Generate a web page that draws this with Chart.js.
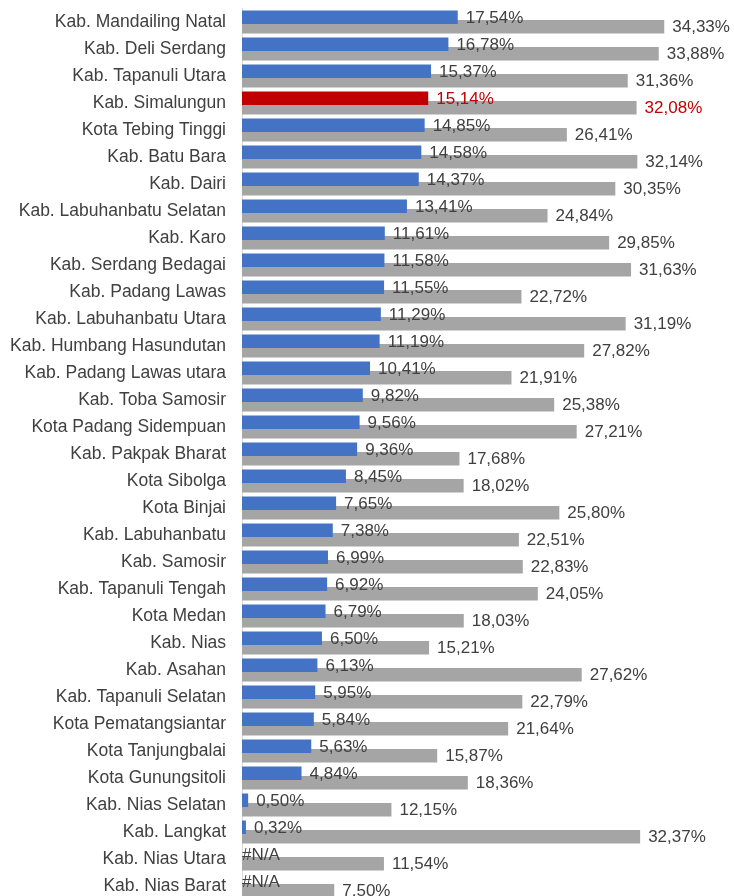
<!DOCTYPE html>
<html>
<head>
<meta charset="utf-8">
<script src="https://cdn.jsdelivr.net/npm/chart.js@4"></script>
<style>
    html, body { margin: 0; padding: 0; background: #fff; overflow: hidden; }
    .wrap { position: relative; width: 734px; height: 900px; }
</style>
</head>
<body>
<div class="wrap"><canvas id="rankChart"></canvas></div>
<script>
// kabupaten / kota, urut dari nilai tertinggi
const categories = [
    'Kab. Mandailing Natal', 'Kab. Deli Serdang', 'Kab. Tapanuli Utara', 'Kab. Simalungun',
    'Kota Tebing Tinggi', 'Kab. Batu Bara', 'Kab. Dairi', 'Kab. Labuhanbatu Selatan',
    'Kab. Karo', 'Kab. Serdang Bedagai', 'Kab. Padang Lawas', 'Kab. Labuhanbatu Utara',
    'Kab. Humbang Hasundutan', 'Kab. Padang Lawas utara', 'Kab. Toba Samosir', 'Kota Padang Sidempuan',
    'Kab. Pakpak Bharat', 'Kota Sibolga', 'Kota Binjai', 'Kab. Labuhanbatu',
    'Kab. Samosir', 'Kab. Tapanuli Tengah', 'Kota Medan', 'Kab. Nias',
    'Kab. Asahan', 'Kab. Tapanuli Selatan', 'Kota Pematangsiantar', 'Kota Tanjungbalai',
    'Kota Gunungsitoli', 'Kab. Nias Selatan', 'Kab. Langkat', 'Kab. Nias Utara', 'Kab. Nias Barat'
];

// seri pertama (biru), null = #N/A
const blueValues = [
    17.54, 16.78, 15.37, 15.14, 14.85, 14.58, 14.37, 13.41, 11.61, 11.58, 11.55,
    11.29, 11.19, 10.41, 9.82, 9.56, 9.36, 8.45, 7.65, 7.38, 6.99, 6.92,
    6.79, 6.50, 6.13, 5.95, 5.84, 5.63, 4.84, 0.50, 0.32, null, null
];

// seri kedua (abu-abu)
const grayValues = [
    34.33, 33.88, 31.36, 32.08, 26.41, 32.14, 30.35, 24.84, 29.85, 31.63, 22.72,
    31.19, 27.82, 21.91, 25.38, 27.21, 17.68, 18.02, 25.80, 22.51, 22.83, 24.05,
    18.03, 15.21, 27.62, 22.79, 21.64, 15.87, 18.36, 12.15, 32.37, 11.54, 7.50
];

const highlight = 'Kab. Simalungun';

const BLUE = '#4472c4';
const GRAY = '#a5a5a5';
const RED = '#c00000';
const TEXT = '#404040';
const FONT = '"Liberation Sans", Arial, sans-serif';

function fmt(v) {
    return v.toFixed(2).replace('.', ',') + '%';
}

// label nilai di ujung batang, gaya excel
const valueLabels = {
    id: 'valueLabels',
    afterDatasetsDraw(chart) {
        const ctx = chart.ctx;
        const x0 = chart.scales.x.getPixelForValue(0);
        ctx.save();
        ctx.font = '17px ' + FONT;
        ctx.textAlign = 'left';
        ctx.textBaseline = 'middle';
        chart.data.datasets.forEach(function(ds, d) {
            chart.getDatasetMeta(d).data.forEach(function(bar, i) {
                const v = ds.data[i];
                ctx.fillStyle = categories[i] === highlight ? RED : TEXT;
                if (v === null) {
                    ctx.fillText('#N/A', x0, bar.y + 1);
                } else {
                    ctx.fillText(fmt(v), bar.x + 8, bar.y + 1);
                }
            });
        });
        ctx.restore();
    }
};

const ctx = document.getElementById('rankChart').getContext('2d');
const rankChart = new Chart(ctx, {
    type: 'bar',
    data: {
        labels: categories,
        datasets: [{
            data: blueValues,
            backgroundColor: categories.map(c => c === highlight ? RED : BLUE),
            categoryPercentage: 0.704,
            barPercentage: 1.4
        }, {
            data: grayValues,
            backgroundColor: GRAY,
            categoryPercentage: 0.704,
            barPercentage: 1.4
        }]
    },
    options: {
        indexAxis: 'y',
        responsive: true,
        maintainAspectRatio: false,
        animation: false,
        layout: {
            padding: { top: 8.5, bottom: 0.5, left: 0, right: 0 }
        },
        scales: {
            x: {
                display: false,
                min: 0,
                max: 40
            },
            y: {
                afterFit(scale) {
                    // lebar tetap, tanpa ruang ekstra atas/bawah dari label
                    scale.width = 242;
                    scale.paddingTop = 0;
                    scale.paddingBottom = 0;
                },
                grid: { display: false, drawTicks: false },
                border: { display: true, color: '#d9d9d9', width: 1 },
                ticks: {
                    color: TEXT,
                    padding: 16,
                    autoSkip: false,
                    font: { family: FONT, size: 17.5 }
                }
            }
        },
        plugins: {
            legend: { display: false },
            tooltip: { enabled: false }
        }
    },
    plugins: [valueLabels]
});
</script>
</body>
</html>
